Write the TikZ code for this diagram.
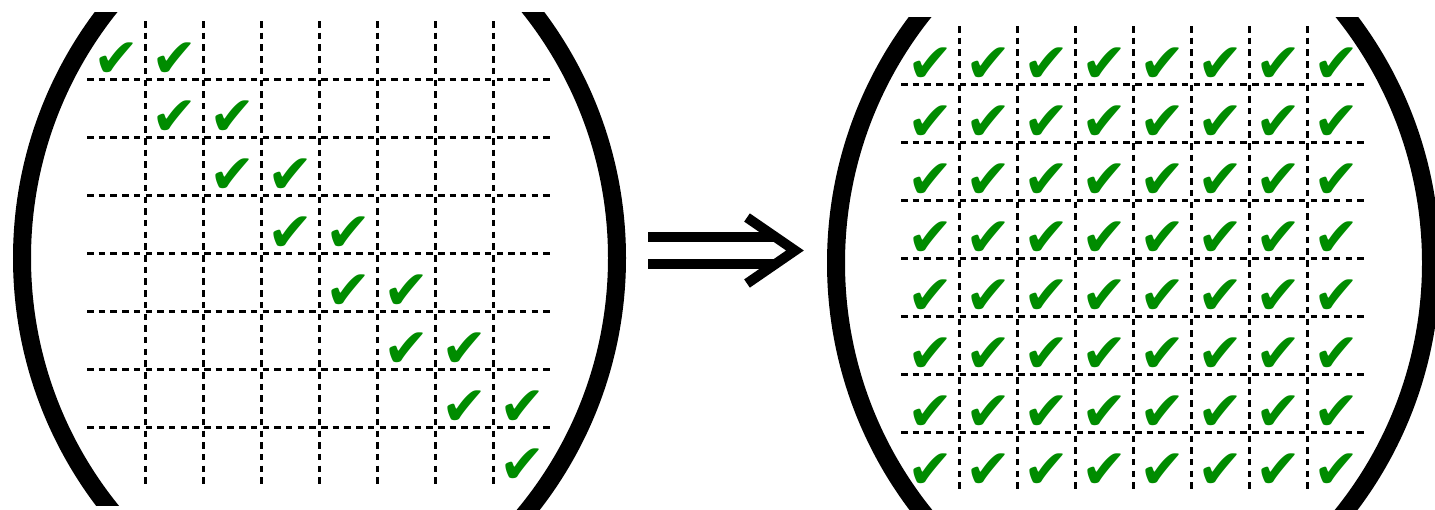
\documentclass[tikz,border=0pt]{standalone}
\usepackage{fontspec}
\newfontfamily\symfont{DejaVu Sans}
\usetikzlibrary{calc}
\definecolor{tickgreen}{RGB}{0,140,0}

\begin{document}
\begin{tikzpicture}[
  x=1pt,y=-1pt,
  gridline/.style={line width=3pt,black,dash pattern=on 6.5pt off 5.2pt},
  paren/.style={line width=18pt,black},
  tick/.style={inner sep=0pt,text=tickgreen,font=\symfont\fontsize{55}{55}\selectfont},
  bar/.style={line width=10pt,double distance=17pt,draw=black,double=white},
  chev/.style={line width=10pt,line join=miter,miter limit=10,black},
]
\useasboundingbox (0,0) rectangle (1435,509);

% left matrix: dashed grid, parentheses, upper bidiagonal ticks
\foreach \k in {1,...,7} {
  \draw[gridline] (87+58*\k,21) -- (87+58*\k,485);
  \draw[gridline] (87,21+58*\k) -- (551,21+58*\k);
}
\begin{scope}
  \clip (0,12) rectangle (319.5,505);
  \draw[paren] (424,258) circle[radius=402];
\end{scope}
\begin{scope}
  \clip (319.5,12) rectangle (640,509);
  \draw[paren] (215,258) circle[radius=402];
\end{scope}
\foreach \r in {1,...,8}
  \node[tick] (L-\r-\r) at (58*\r+59,58*\r+2) {✔};
\foreach \r [evaluate=\r as \c using int(\r+1)] in {1,...,7}
  \node[tick] (L-\r-\c) at (58*\c+59,58*\r+2) {✔};

% implication arrow
\coordinate (arrL) at (648,250.5);
\coordinate (arrR) at (775,250.5);
\coordinate (tip) at (795,250.5);
\draw[bar] (arrL) -- (arrR);
\draw[chev] ($(tip)+(-48,-33)$) -- (tip) -- ($(tip)+(-48,33)$);

% right matrix: full
\begin{scope}[shift={(814,5)}]
  \foreach \k in {1,...,7} {
    \draw[gridline] (87+58*\k,21) -- (87+58*\k,485);
    \draw[gridline] (87,21+58*\k) -- (551,21+58*\k);
  }
  \begin{scope}
    \clip (0,12) rectangle (319.5,504);
    \draw[paren] (424,258) circle[radius=402];
  \end{scope}
  \begin{scope}
    \clip (319.5,12) rectangle (621,504);
    \draw[paren] (215,258) circle[radius=402];
  \end{scope}
  \foreach \r in {1,...,8}
    \foreach \c in {1,...,8}
      \node[tick] (R-\r-\c) at (58*\c+59,58*\r+2) {✔};
\end{scope}
\end{tikzpicture}
\end{document}
